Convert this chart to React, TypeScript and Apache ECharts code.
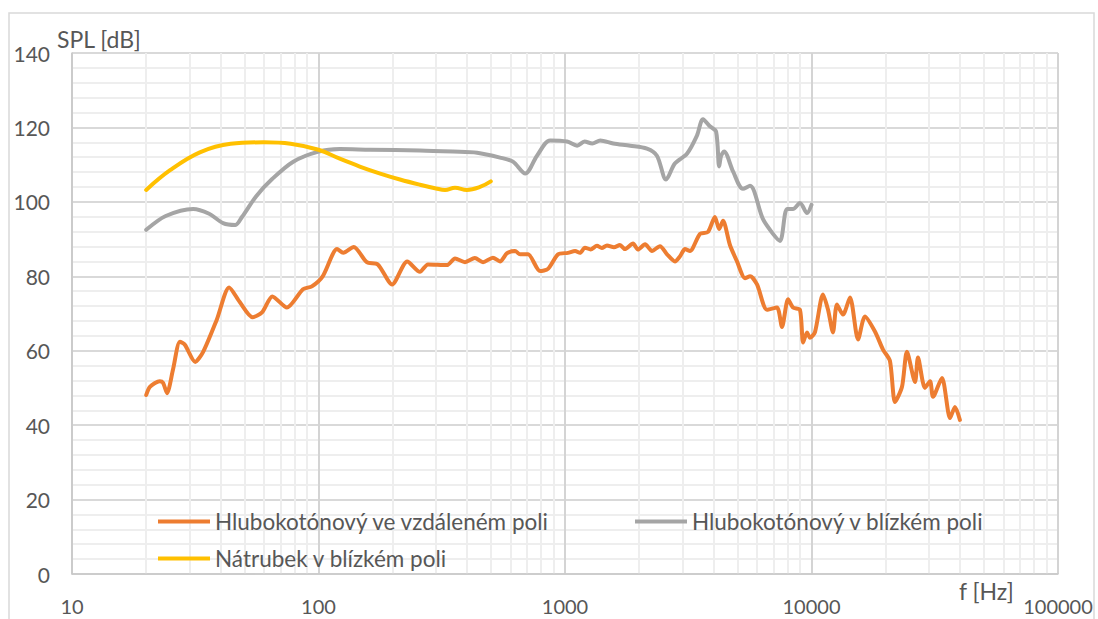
import React, { useEffect, useRef } from "react";
import * as echarts from "echarts";

// ---- data ----
const farFreq = [20, 20.7, 22.7, 23.4, 24.3, 25.7, 27.4, 28.7, 31.6, 34, 38.7, 43.4, 48, 54, 59, 65, 74.5, 86.5, 94, 104, 119, 126, 139, 157, 174, 199, 229, 258, 278, 332, 358, 393, 431, 465, 510, 545, 582, 627, 657, 708, 792, 853, 937, 1028, 1099, 1150, 1205, 1270, 1348, 1410, 1480, 1580, 1671, 1750, 1888, 1977, 2113, 2254, 2428, 2594, 2793, 2929, 3067, 3213, 3530, 3800, 4057, 4217, 4375, 4668, 4986, 5373, 5634, 6011, 6597, 7244, 7590, 8035, 8413, 8977, 9245, 9590, 9860, 10330, 11130, 11670, 12220, 12680, 13420, 14330, 15450, 16480, 18110, 19500, 20800, 21820, 23290, 24390, 26300, 27040, 28850, 30270, 31120, 33820, 36480, 38200, 40000];
const farSpl = [48.1, 50.3, 51.8, 51.4, 48.6, 55, 62.4, 61.6, 57, 59.6, 68.4, 77, 73, 69, 70.3, 74.6, 71.6, 76.5, 77.3, 80, 87.3, 86.3, 87.9, 83.8, 83.2, 77.8, 84, 81.2, 83.2, 83, 84.8, 83.8, 84.9, 83.8, 85, 84, 86.2, 86.8, 85.9, 85.9, 81.4, 82, 85.9, 86.3, 86.8, 86.3, 87.7, 87.2, 88.2, 87.6, 88.3, 87.8, 88.4, 87.3, 88.8, 87.2, 88.6, 86.8, 88.1, 85.9, 84, 85.4, 87.3, 86.8, 91.4, 91.9, 95.9, 92.7, 94.9, 88.4, 84, 79.5, 80, 77.8, 71, 71.6, 66.4, 73.8, 71.6, 71, 62.2, 64.9, 63.5, 65, 75.1, 71, 64.9, 72.4, 69.7, 74.3, 63, 69.2, 65.1, 60.3, 57.3, 46.2, 50.3, 59.7, 51.6, 58.2, 50, 51.8, 47.6, 52.7, 41.9, 44.9, 41.4];

const nearFreq = [20, 24, 31, 36, 41, 46, 49, 56, 65, 79, 100, 122, 162, 258, 351, 440, 545, 615, 690, 770, 870, 1020, 1120, 1200, 1290, 1390, 1570, 1840, 2150, 2360, 2570, 2790, 3130, 3430, 3630, 3870, 4100, 4220, 4300, 4420, 4810, 5270, 5630, 6350, 6980, 7450, 7960, 8410, 8980, 9590, 10000];
const nearSpl = [92.5, 96.2, 98.1, 96.8, 94.3, 93.8, 96, 101.6, 106.2, 110.8, 113.5, 114.2, 114, 113.8, 113.5, 113.2, 111.9, 110.8, 107.6, 112.4, 116.5, 116.2, 115.1, 116.2, 115.7, 116.5, 115.7, 115.1, 114.3, 112.4, 106, 110.3, 113, 117.8, 122.2, 120.3, 118.9, 109.5, 112.4, 113.5, 108.1, 103.5, 104.3, 95.4, 91.4, 89.5, 98.1, 98.1, 99.7, 97, 99.2];

const portFreq = [20, 25, 33, 44, 60, 77, 100, 122, 147, 178, 214, 258, 300, 326, 358, 400, 452, 500];
const portSpl = [103.2, 108.5, 113.3, 115.6, 116, 115.6, 114, 111.6, 109.5, 107.6, 106, 104.6, 103.6, 103.2, 103.8, 103.2, 104, 105.5];

const seriesNames = [
  "Hlubokotónový ve vzdáleném poli",
  "Hlubokotónový v blízkém poli",
  "Nátrubek v blízkém poli",
];
const yTicks = { min: 0, max: 140, interval: 20 };
const xRange = { min: 10, max: 100000 };

const zip = (f: number[], v: number[]) => f.map((x, i) => [x, v[i]]);

const minorFreqs: number[] = [];
for (let d = 10; d < 100000; d *= 10) {
  for (let k = 2; k <= 9; k++) minorFreqs.push(k * d);
}

const FONT = "Lato";
const TXT = "#575757";

export default function App() {
  const ref = useRef<HTMLDivElement>(null);
  useEffect(() => {
    const chart = echarts.init(ref.current!, null, { renderer: "svg" });
    const legendBase = {
      icon: "rect",
      itemWidth: 52,
      itemHeight: 4,
      padding: 0,
      textStyle: { color: TXT, fontSize: 22.5, fontFamily: FONT },
      selectedMode: false,
      z: 20,
    };
    chart.setOption({
      animation: false,
      backgroundColor: "#ffffff",
      grid: { left: 72, right: 40, top: 53, bottom: 45 },
      graphic: [
        {
          type: "rect",
          shape: { x: 9, y: 13, width: 1085, height: 640 },
          style: { fill: "none", stroke: "#d9d9d9", lineWidth: 1.5 },
          z: -1,
        },
        {
          type: "text",
          left: 57,
          top: 27,
          style: { text: "SPL [dB]", fill: TXT, fontSize: 23, fontFamily: FONT },
        },
        {
          type: "text",
          left: 959,
          top: 579,
          style: { text: "f [Hz]", fill: TXT, fontSize: 23, fontFamily: FONT },
        },
      ],
      legend: [
        { ...legendBase, data: [seriesNames[0]], left: 158, top: 510 },
        { ...legendBase, data: [seriesNames[1]], left: 635, top: 510 },
        { ...legendBase, data: [seriesNames[2]], left: 158, top: 547 },
      ],
      xAxis: {
        type: "log",
        logBase: 10,
        min: xRange.min,
        max: xRange.max,
        axisLine: { show: true, lineStyle: { color: "#c8c8c8", width: 1.5 } },
        axisTick: { show: false },
        axisLabel: {
          color: TXT,
          fontSize: 20,
          fontFamily: FONT,
          margin: 22,
          formatter: (v: number) => String(Math.round(v)),
        },
        splitLine: { show: true, lineStyle: { color: "#d4d4d4", width: 2 } },
      },
      yAxis: {
        type: "value",
        min: yTicks.min,
        max: yTicks.max,
        interval: yTicks.interval,
        axisLine: { show: true, lineStyle: { color: "#c8c8c8", width: 1.5 } },
        axisTick: { show: false },
        axisLabel: { color: TXT, fontSize: 21, fontFamily: FONT, margin: 22 },
        splitLine: { show: true, lineStyle: { color: "#d9d9d9", width: 2 } },
        minorTick: { show: false, splitNumber: 5 },
        minorSplitLine: { show: true, lineStyle: { color: "#eeeeee", width: 2 } },
      },
      series: [
        {
          name: "_grid",
          type: "line",
          data: [],
          silent: true,
          z: 0,
          zlevel: 0,
          markLine: {
            silent: true,
            z: 0,
            symbol: ["none", "none"],
            label: { show: false },
            lineStyle: { color: "#eeeeee", width: 2, type: "solid" },
            emphasis: { disabled: true },
            data: minorFreqs.map((f) => ({ xAxis: f })),
          },
        },
        {
          name: seriesNames[0],
          type: "line",
          data: zip(farFreq, farSpl),
          showSymbol: false,
          smooth: 0.25,
          z: 12,
          lineStyle: { color: "#ED7D31", width: 4, cap: "round", join: "round" },
          itemStyle: { color: "#ED7D31" },
        },
        {
          name: seriesNames[1],
          type: "line",
          data: zip(nearFreq, nearSpl),
          showSymbol: false,
          smooth: 0.3,
          z: 11,
          lineStyle: { color: "#A5A5A5", width: 4, cap: "round", join: "round" },
          itemStyle: { color: "#A5A5A5" },
        },
        {
          name: seriesNames[2],
          type: "line",
          data: zip(portFreq, portSpl),
          showSymbol: false,
          smooth: 0.4,
          z: 11,
          lineStyle: { color: "#FFC000", width: 4, cap: "round", join: "round" },
          itemStyle: { color: "#FFC000" },
        },
      ],
    });
    return () => chart.dispose();
  }, []);
  return (
    <div
      ref={ref}
      style={{ position: "absolute", left: 0, top: 0, width: 1098, height: 619 }}
    />
  );
}
